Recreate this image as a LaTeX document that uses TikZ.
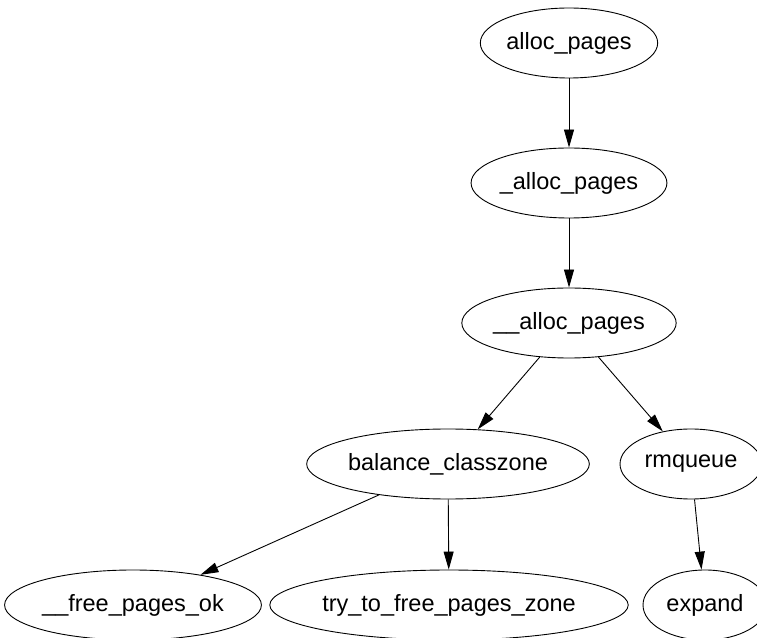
\documentclass[tikz,border=0pt]{standalone}
\usepackage{fontspec}
\setmainfont{Liberation Sans}
\usetikzlibrary{shapes.geometric,arrows.meta}

\tikzset{
  fn/.style={ellipse, draw=black, line width=0.9pt, inner sep=0pt,
    minimum height=70pt, font=\fontsize{23.5}{28}\selectfont},
  call/.style={draw=black, line width=0.9pt,
    -{Triangle[length=18pt,width=10pt]}}
}

\begin{document}
\begin{tikzpicture}[x=1pt,y=1pt]
  \useasboundingbox (0,0) rectangle (757,637);
  \clip (0,0) rectangle (757,637);
  \fill[white] (0,0) rectangle (757,637);

  % call graph nodes
  \node[fn, minimum width=168pt] (allocpages)   at (569,594) {alloc\_pages};
  \node[fn, minimum width=184pt] (uallocpages)  at (569,454) {\_alloc\_pages};
  \node[fn, minimum width=200pt] (uuallocpages) at (569,314) {\_\_alloc\_pages};
  \node[fn, minimum width=246pt] (balance)      at (448,173) {balance\_classzone};
  \node[fn, minimum width=142pt] (rmqueue)      at (691,173) {rmqueue};
  \node[fn, minimum width=242pt] (freeok)       at (133,32)  {\_\_free\_pages\_ok};
  \node[fn, minimum width=322pt] (tryfree)      at (449,32)  {try\_to\_free\_pages\_zone};
  \node[fn, minimum width=124pt] (expand)       at (705,32)  {expand};

  % calls
  \draw[call] (allocpages) -- (uallocpages);
  \draw[call] (uallocpages) -- (uuallocpages);
  \draw[call] (uuallocpages) -- (balance);
  \draw[call] (uuallocpages) -- (rmqueue);
  \draw[call] (balance) -- (freeok);
  \draw[call] (balance) -- (tryfree);
  \draw[call] (rmqueue) -- (expand);
\end{tikzpicture}
\end{document}
